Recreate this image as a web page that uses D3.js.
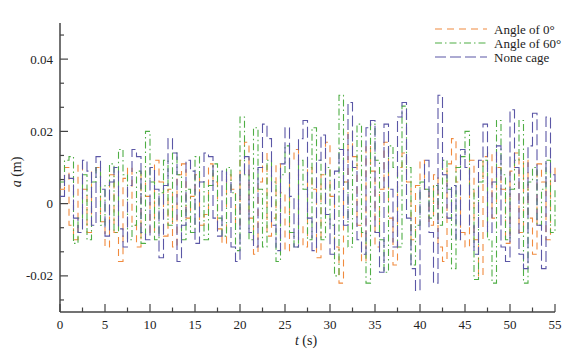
<!DOCTYPE html>
<html><head><meta charset="utf-8">
<script src="https://cdn.jsdelivr.net/npm/d3@7"></script>
<style>
body{margin:0;background:#fff;}
text{font-family:"Liberation Serif","Times New Roman",serif;fill:#222;}
</style></head>
<body><svg id="c" width="586" height="357"></svg>
<script>
// sample interval (s)
const dt = 0.5;
const seriesNames = ["Angle of 0°", "Angle of 60°", "None cage"];
const xTicks = [0,5,10,15,20,25,30,35,40,45,50,55];
const yTicks = [-0.02, 0, 0.02, 0.04];
const yTickLabels = ["-0.02", "0", "0.02", "0.04"];

const angle0 = [
 0.004, 0.010,-0.006,-0.010, 0.011, 0.004,-0.008, 0.009, 0.010,-0.005,
-0.012, 0.008,-0.008,-0.016, 0.007, 0.010,-0.006,-0.012, 0.009, 0.002,
-0.008, 0.012, 0.006,-0.009, 0.004,-0.012, 0.008, 0.011,-0.004, 0.002,
 0.008,-0.006,-0.003, 0.011, 0.006,-0.007,-0.011, 0.008, 0.004,-0.006,
 0.012, 0.017,-0.004,-0.014, 0.006, 0.014,-0.009,-0.004, 0.011, 0.003,
-0.013, 0.012, 0.015,-0.006,-0.012, 0.010, 0.004,-0.015, 0.008, 0.017,
 0.002,-0.012,-0.022, 0.006, 0.020, 0.013,-0.006,-0.016, 0.016, 0.009,
-0.012, 0.004, 0.017,-0.004,-0.017, 0.010, 0.014, 0.006,-0.010, 0.005,
 0.012, 0.004,-0.006, 0.008,-0.012,-0.016, 0.011, 0.018, 0.006,-0.008,
-0.012, 0.012,-0.010,-0.020, 0.013, 0.014,-0.004, 0.010, 0.004,-0.011,
 0.009, 0.014,-0.008, 0.012,-0.004,-0.014, 0.011, 0.006,-0.010, 0.010,
 0.006];

const angle60 = [
 0.006, 0.012, 0.013,-0.011,-0.004, 0.008,-0.010, 0.006, 0.010,-0.006,
 0.005, 0.011,-0.008, 0.015, 0.008,-0.010,-0.006, 0.009,-0.011, 0.020,
 0.006,-0.010, 0.003, 0.012,-0.006, 0.014, 0.008,-0.010, 0.004,-0.008,
 0.013, 0.006,-0.010, 0.005, 0.011,-0.004,-0.009, 0.010, 0.003,-0.013,
 0.024, 0.008,-0.010, 0.021, 0.004,-0.012, 0.012, 0.006,-0.016, 0.008,
 0.016,-0.008,-0.012, 0.012, 0.004,-0.010, 0.021, 0.012,-0.010, 0.010,
-0.006,-0.020, 0.030, 0.006,-0.012, 0.010, 0.022,-0.008,-0.022, 0.022,
 0.012,-0.010,-0.019, 0.016, 0.010,-0.012, 0.027, 0.010,-0.017,-0.006,
 0.006, 0.004,-0.004, 0.005,-0.006, 0.012, 0.004,-0.018, 0.010, 0.013,
 0.020, 0.004,-0.021, 0.006, 0.012,-0.010,-0.022, 0.023, 0.008,-0.010,
 0.004, 0.012, 0.023,-0.022, 0.006, 0.010,-0.006, 0.004, 0.012,-0.008,
 0.004];

const noneCage = [
 0.002, 0.008, 0.007,-0.004,-0.008, 0.012, 0.009,-0.006, 0.013, 0.004,
-0.009, 0.006, 0.010,-0.007,-0.012, 0.005, 0.015, 0.013,-0.008,-0.010,
 0.010, 0.004,-0.015, 0.005, 0.018, 0.014,-0.016,-0.006, 0.012, 0.009,
-0.011, 0.006, 0.014, 0.013,-0.004,-0.009, 0.009, 0.006,-0.012,-0.016,
 0.008, 0.013,-0.008,-0.012, 0.010, 0.022, 0.018,-0.006,-0.013, 0.011,
 0.021, 0.002,-0.012, 0.018, 0.023,-0.004,-0.013, 0.012, 0.019,-0.003,
-0.014, 0.009, 0.015,-0.006, 0.028, 0.010,-0.010,-0.014, 0.021, 0.023,
-0.008,-0.019, 0.022, 0.004,-0.012, 0.024, 0.028,-0.004,-0.018,-0.024,
 0.004, 0.012,-0.008,-0.022, 0.030, 0.008,-0.004, 0.005,-0.010, 0.015,
 0.010,-0.006,-0.014, 0.012, 0.022,-0.008, 0.006, 0.016,-0.012,-0.016,
 0.026, 0.010,-0.014,-0.018, 0.016, 0.025,-0.006,-0.018, 0.024, 0.008,
 0.006];

const colors = ["#f08a3e", "#4fae45", "#5b57a6"];
const dashes = ["7,5", "7,3,1.5,3", "11,4"];

const svg = d3.select("#c");
const x = d3.scaleLinear().domain([0,55]).range([60,555]);
const y = d3.scaleLinear().domain([-0.03,0.05]).range([312,23]);

const axisColor = "#444";
// axis lines
svg.append("line").attr("x1",60).attr("x2",60).attr("y1",y(0.05)).attr("y2",y(-0.03))
  .attr("stroke",axisColor).attr("stroke-width",1.5);
svg.append("line").attr("x1",x(0)).attr("x2",x(55)).attr("y1",312).attr("y2",312)
  .attr("stroke",axisColor).attr("stroke-width",1.5);

// x ticks
const xMinor = d3.range(0, 56, 2.5);
svg.append("g").selectAll("line").data(xMinor).join("line")
  .attr("x1",d=>x(d)).attr("x2",d=>x(d)).attr("y1",312)
  .attr("y2",d=> (d%5===0)?304:307.5)
  .attr("stroke",axisColor).attr("stroke-width",1.2);
svg.append("g").selectAll("text").data(xTicks).join("text")
  .attr("x",d=>x(d)).attr("y",329).attr("text-anchor","middle")
  .attr("font-size",13).text(d=>d);

// y ticks
const yMinor = d3.range(-4, 8).map(k => k*0.02/3);
svg.append("g").selectAll("line").data(yMinor).join("line")
  .attr("x1",60).attr("y1",d=>y(d)).attr("y2",d=>y(d))
  .attr("x2",(d,i)=> ((i-4)%3===0)?68:64)
  .attr("stroke",axisColor).attr("stroke-width",1.2);
svg.append("g").selectAll("text").data(yTicks).join("text")
  .attr("x",53).attr("y",d=>y(d)).attr("dy","0.35em").attr("text-anchor","end")
  .attr("font-size",13).text((d,i)=>yTickLabels[i]);

// axis titles
const xt = svg.append("text").attr("x",306).attr("y",345).attr("text-anchor","middle").attr("font-size",14);
xt.append("tspan").attr("font-style","italic").text("t");
xt.append("tspan").text(" (s)");
const yt = svg.append("text").attr("transform","translate(21,172) rotate(-90)")
  .attr("text-anchor","middle").attr("font-size",14);
yt.append("tspan").attr("font-style","italic").text("a");
yt.append("tspan").text(" (m)");

// lines
const all = [angle0, angle60, noneCage];
const line = d3.line().x((d,i)=>x(i*dt)).y(d=>y(d)).curve(d3.curveStepAfter);
all.forEach((s,k)=>{
  svg.append("path").datum(s).attr("d",line).attr("fill","none")
    .attr("stroke",colors[k]).attr("stroke-width",1.1).attr("stroke-dasharray",dashes[k]);
});

// legend
seriesNames.forEach((n,k)=>{
  const ly = 29 + k*14;
  svg.append("line").attr("x1",435).attr("x2",487).attr("y1",ly).attr("y2",ly)
    .attr("stroke",colors[k]).attr("stroke-width",1.1).attr("stroke-dasharray",dashes[k]);
  svg.append("text").attr("x",494).attr("y",ly).attr("dy","0.35em").attr("font-size",13).text(n);
});
</script></body></html>
